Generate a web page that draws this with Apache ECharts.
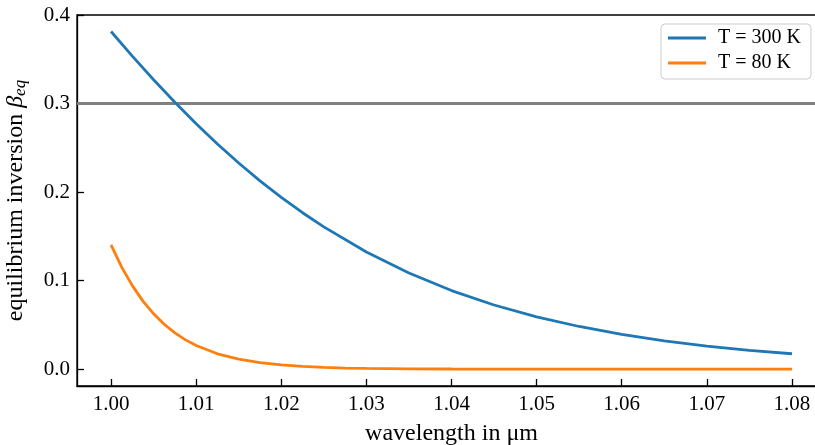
<!DOCTYPE html>
<html>
<head>
<meta charset="utf-8">
<script src="https://cdn.jsdelivr.net/npm/echarts@6/dist/echarts.min.js"></script>
<style>
html,body{margin:0;padding:0;background:#fff;}
#chart{width:815px;height:445px;}
</style>
</head>
<body>
<div id="chart"></div>
<script>
// Data
const wavelength300 = [1.000,1.0025,1.005,1.0075,1.010,1.0125,1.015,1.0175,1.020,1.0225,1.025,1.030,1.035,1.040,1.045,1.050,1.055,1.060,1.065,1.070,1.075,1.080];
const beta300 = [0.3814,0.3536,0.3269,0.3014,0.2772,0.2543,0.2329,0.2127,0.1940,0.1767,0.1607,0.1323,0.1086,0.0888,0.0725,0.0591,0.0482,0.0392,0.0320,0.0261,0.0213,0.0174];
const wavelength80 = [1.000,1.00125,1.0025,1.00375,1.005,1.00625,1.0075,1.00875,1.010,1.0125,1.015,1.0175,1.020,1.0225,1.025,1.0275,1.030,1.035,1.040,1.050,1.060,1.070,1.080];
const beta80 = [0.1403,0.1153,0.0944,0.0769,0.0625,0.0507,0.0410,0.0331,0.0267,0.0174,0.0113,0.0074,0.0048,0.0031,0.0020,0.0013,0.0009,0.0004,0.0002,0.00003,0.00001,0.0,0.0];
const thresholdValue = 0.3;
const xTicks = [1.00,1.01,1.02,1.03,1.04,1.05,1.06,1.07,1.08];
const yTicks = [0.0,0.1,0.2,0.3,0.4];
const seriesNames = ['T = 300 K','T = 80 K'];

const FONT = 'Liberation Serif';
const chart = echarts.init(document.getElementById('chart'), null, {renderer:'canvas'});

const zip = (xs, ys) => xs.map((x,i) => [x, ys[i]]);

chart.setOption({
  animation: false,
  backgroundColor: '#fff',
  grid: {left: 77, top: 15, bottom: 59, right: -11, show: true, borderColor: '#000', borderWidth: 1.3, backgroundColor: 'transparent', containLabel: false, outerBoundsMode: 'none'},
  legend: {
    orient: 'vertical',
    left: 661, top: 24,
    data: seriesNames.map(n => ({name: n, icon: 'rect'})),
    itemWidth: 38, itemHeight: 3, itemGap: 5,
    padding: [4, 10, 6, 7],
    borderColor: '#cccccc', borderWidth: 1, borderRadius: 4,
    backgroundColor: 'rgba(255,255,255,0.8)',
    textStyle: {fontFamily: FONT, fontSize: 20, color: '#000', lineHeight: 20, padding: [0,0,0,7]}
  },
  xAxis: {
    type: 'value', min: 0.996, max: 1.084,
    name: 'wavelength in μm', nameLocation: 'middle', nameGap: 36,
    nameTextStyle: {fontFamily: FONT, fontSize: 24, color: '#000'},
    axisLine: {show: true, onZero: false, lineStyle: {color: '#000', width: 1.3}},
    axisTick: {show: true, inside: true, length: 7, customValues: xTicks, lineStyle: {color: '#000', width: 1.3}},
    axisLabel: {customValues: xTicks, formatter: v => v.toFixed(2), fontFamily: FONT, fontSize: 21, color: '#000', margin: 8},
    splitLine: {show: false}
  },
  yAxis: {
    type: 'value', min: -0.019, max: 0.4,
    name: '{a|equilibrium inversion }{b|β}{c|eq}', nameLocation: 'middle', nameGap: 48,
    nameTextStyle: {
      fontFamily: FONT, fontSize: 24, color: '#000',
      rich: {
        a: {fontFamily: FONT, fontSize: 24, color: '#000'},
        b: {fontFamily: FONT, fontSize: 24, fontStyle: 'italic', color: '#000'},
        c: {fontFamily: FONT, fontSize: 17, fontStyle: 'italic', color: '#000', padding: [10,0,0,0]}
      }
    },
    axisLine: {show: true, onZero: false, lineStyle: {color: '#000', width: 1.3}},
    axisTick: {show: true, inside: true, length: 7, customValues: yTicks, lineStyle: {color: '#000', width: 1.3}},
    axisLabel: {customValues: yTicks, formatter: v => v.toFixed(1), fontFamily: FONT, fontSize: 21, color: '#000', margin: 7},
    splitLine: {show: false}
  },
  series: [
    {
      name: seriesNames[0], type: 'line', data: zip(wavelength300, beta300),
      showSymbol: false, smooth: false,
      lineStyle: {color: '#1f77b4', width: 2.8}, itemStyle: {color: '#1f77b4'}, z: 3,
      markLine: {
        silent: true, symbol: 'none', label: {show: false}, z: 2,
        lineStyle: {color: '#808080', width: 3, type: 'solid'},
        data: [{yAxis: thresholdValue}]
      }
    },
    {
      name: seriesNames[1], type: 'line', data: zip(wavelength80, beta80),
      showSymbol: false, smooth: false,
      lineStyle: {color: '#ff7f0e', width: 2.8}, itemStyle: {color: '#ff7f0e'}, z: 3
    }
  ]
});
</script>
</body>
</html>
